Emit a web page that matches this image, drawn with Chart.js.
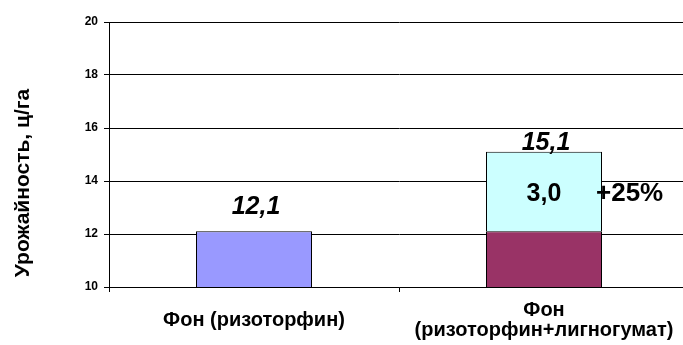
<!DOCTYPE html>
<html>
<head>
<meta charset="utf-8">
<script src="https://cdn.jsdelivr.net/npm/chart.js@4/dist/chart.umd.min.js"></script>
<style>
    html, body { margin: 0; padding: 0; background: #fff; overflow: hidden; }
    #wrap { width: 683px; height: 345px; overflow: hidden; }
</style>
</head>
<body>
<div id="wrap"><canvas id="yieldChart" width="700" height="345"></canvas></div>
<script>
// Урожайность по вариантам опыта
const categories = ['Фон (ризоторфин)', ['Фон', '(ризоторфин+лигногумат)']];
const baseYield = [12.1, 12.1];
const yieldGain = [null, 3.0];
const baseColors = ['#9999FF', '#993366'];
const gainColor = '#CCFFFF';
const yMin = 10, yMax = 20, yStep = 2;

const FONT = 'Arial, "Liberation Sans", sans-serif';
const fmt = v => v.toFixed(1).replace('.', ',');

// Подписи значений над столбиками, прибавка и её процент
const valueLabels = {
    id: 'valueLabels',
    afterDatasetsDraw(chart) {
        const ctx = chart.ctx;
        const baseMeta = chart.getDatasetMeta(0);
        const gainMeta = chart.getDatasetMeta(1);
        const gaps = [17, 2];
        ctx.save();
        ctx.fillStyle = '#000';
        ctx.textAlign = 'center';
        ctx.textBaseline = 'alphabetic';
        categories.forEach((c, i) => {
            const bar = baseMeta.data[i];
            const gain = yieldGain[i];
            let top = bar.y;
            let total = baseYield[i];
            if (gain != null) {
                const g = gainMeta.data[i];
                top = g.y;
                total = baseYield[i] + gain;
                const mid = (g.y + g.base) / 2;
                ctx.font = 'bold 25px ' + FONT;
                ctx.textAlign = 'center';
                ctx.fillText(fmt(gain), g.x, mid + 9);
                ctx.font = 'bold 26px ' + FONT;
                ctx.textAlign = 'left';
                const pct = Math.round(gain / baseYield[i] * 100);
                ctx.fillText('+' + pct + '%', g.x + g.width / 2 - 6, mid + 9);
            }
            ctx.font = 'italic bold 25px ' + FONT;
            ctx.textAlign = 'center';
            ctx.fillText(fmt(total), bar.x + 2, top - gaps[i]);
        });
        ctx.restore();
    }
};

// Подпись оси Y
const yTitle = {
    id: 'yTitle',
    afterDraw(chart) {
        const ctx = chart.ctx;
        ctx.save();
        ctx.translate(23, 183);
        ctx.rotate(-Math.PI / 2);
        ctx.font = 'bold 21px ' + FONT;
        ctx.fillStyle = '#000';
        ctx.textAlign = 'center';
        ctx.textBaseline = 'middle';
        ctx.fillText('Урожайность, ц/га', 0, 0);
        ctx.restore();
    }
};

new Chart(document.getElementById('yieldChart').getContext('2d'), {
    type: 'bar',
    data: {
        labels: categories,
        datasets: [{
            data: baseYield,
            backgroundColor: baseColors,
            borderColor: '#000',
            borderWidth: 1
        }, {
            data: yieldGain,
            backgroundColor: gainColor,
            borderColor: '#000',
            borderWidth: 1
        }]
    },
    options: {
        responsive: false,
        animation: false,
        events: [],
        categoryPercentage: 1,
        barPercentage: 0.4,
        layout: { padding: { top: 22, right: 11, left: 0, bottom: 0 } },
        plugins: {
            legend: { display: false },
            tooltip: { enabled: false }
        },
        scales: {
            x: {
                stacked: true,
                offset: true,
                afterFit: s => { s.height = 58; },
                border: { color: '#000', width: 1 },
                grid: {
                    offset: true,
                    drawOnChartArea: false,
                    color: '#000',
                    tickLength: 5
                },
                ticks: {
                    color: '#000',
                    font: { family: FONT, size: 20, weight: 'bold', lineHeight: 1 },
                    maxRotation: 0,
                    autoSkip: false,
                    crossAlign: 'center',
                    padding: 18
                }
            },
            y: {
                stacked: true,
                min: yMin,
                max: yMax,
                afterFit: s => { s.width = 109; },
                border: { color: '#000', width: 1 },
                grid: { color: '#000', tickLength: 5 },
                ticks: {
                    stepSize: yStep,
                    color: '#000',
                    padding: 6,
                    font: { family: FONT, size: 12, weight: 'bold' }
                }
            }
        }
    },
    plugins: [valueLabels, yTitle]
});
</script>
</body>
</html>
